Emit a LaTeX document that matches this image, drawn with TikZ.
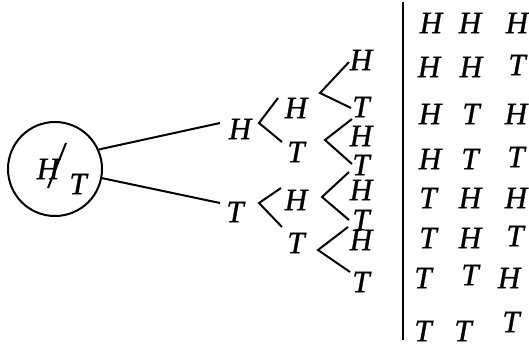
\documentclass[tikz,border=0pt]{standalone}
\usepackage{fontspec}
\setmainfont{Liberation Serif}[ItalicFeatures={FakeBold=0.8}]
\begin{document}
\begin{tikzpicture}[x=1pt,y=-1pt,
  lbl/.style={inner sep=0pt,font=\fontsize{31}{37}\selectfont\itshape},
  br/.style={line width=2pt},
  rootc/.style={circle,draw,line width=2pt,minimum size=94pt,inner sep=0pt}]
\useasboundingbox (0,0) rectangle (529,343);
% root
\node[rootc] (root) at (55,169) {};
\node[lbl] (rh) at (48,169) {H};
\node[lbl] (rt) at (78,184) {T};
\draw[br] (66,143) -- (48,188);
% level 1
\node[lbl] (h1) at (240,129) {H};
\node[lbl] (t1) at (235,212) {T};
\coordinate (e1) at (220,123);
\coordinate (e2) at (220,203);
\draw[br] (root.24) -- (e1);
\draw[br] (root.-11) -- (e2);
% level 2
\node[lbl] (hh) at (296,108) {H};
\node[lbl] (ht) at (296,152) {T};
\node[lbl] (th) at (296,200) {H};
\node[lbl] (tt) at (296,243) {T};
\coordinate (v1) at (259,123);
\coordinate (v1a) at (278,98);
\coordinate (v1b) at (282,142);
\coordinate (v2) at (259,203);
\coordinate (v2a) at (281,188);
\coordinate (v2b) at (282,227);
\draw[br] (v1a) -- (v1) -- (v1b);
\draw[br] (v2a) -- (v2) -- (v2b);
% level 3
\node[lbl] (hhh) at (361,60) {H};
\node[lbl] (hht) at (361,107) {T};
\node[lbl] (hth) at (361,136) {H};
\node[lbl] (htt) at (361,165) {T};
\node[lbl] (thh) at (361,190) {H};
\node[lbl] (tht) at (361,220) {T};
\node[lbl] (tth) at (361,240) {H};
\node[lbl] (ttt) at (361,282) {T};
\coordinate (w1) at (320,93);
\coordinate (w1a) at (349,62);
\coordinate (w1b) at (351,108);
\coordinate (w2) at (325,140);
\coordinate (w2a) at (352,119);
\coordinate (w2b) at (352,164);
\coordinate (w3) at (322,197);
\coordinate (w3a) at (349,172);
\coordinate (w3b) at (349,220);
\coordinate (w4) at (318,250);
\coordinate (w4a) at (348,227);
\coordinate (w4b) at (350,272);
\draw[br] (w1a) -- (w1) -- (w1b);
\draw[br] (w2a) -- (w2) -- (w2b);
\draw[br] (w3a) -- (w3) -- (w3b);
\draw[br] (w4a) -- (w4) -- (w4b);
% bar
\coordinate (bt) at (403,2);
\coordinate (bb) at (403,340);
\draw[line width=2.5pt] (bt) -- (bb);
% table
\node[lbl] (r1a) at (431,23) {H};
\node[lbl] (r1b) at (470,23) {H};
\node[lbl] (r1c) at (517,23) {H};
\node[lbl] (r2a) at (429,67) {H};
\node[lbl] (r2b) at (471,67) {H};
\node[lbl] (r2c) at (517,65) {T};
\node[lbl] (r3a) at (430,114) {H};
\node[lbl] (r3b) at (471,114) {T};
\node[lbl] (r3c) at (516,114) {H};
\node[lbl] (r4a) at (430,159) {H};
\node[lbl] (r4b) at (470,159) {T};
\node[lbl] (r4c) at (516,157) {T};
\node[lbl] (r5a) at (428,198) {T};
\node[lbl] (r5b) at (470,198) {H};
\node[lbl] (r5c) at (516,198) {H};
\node[lbl] (r6a) at (428,238) {T};
\node[lbl] (r6b) at (470,238) {H};
\node[lbl] (r6c) at (515,236) {T};
\node[lbl] (r7a) at (423,278) {T};
\node[lbl] (r7b) at (470,275) {T};
\node[lbl] (r7c) at (509,278) {H};
\node[lbl] (r8a) at (423,331) {T};
\node[lbl] (r8b) at (463,331) {T};
\node[lbl] (r8c) at (511,322) {T};
\end{tikzpicture}
\end{document}
